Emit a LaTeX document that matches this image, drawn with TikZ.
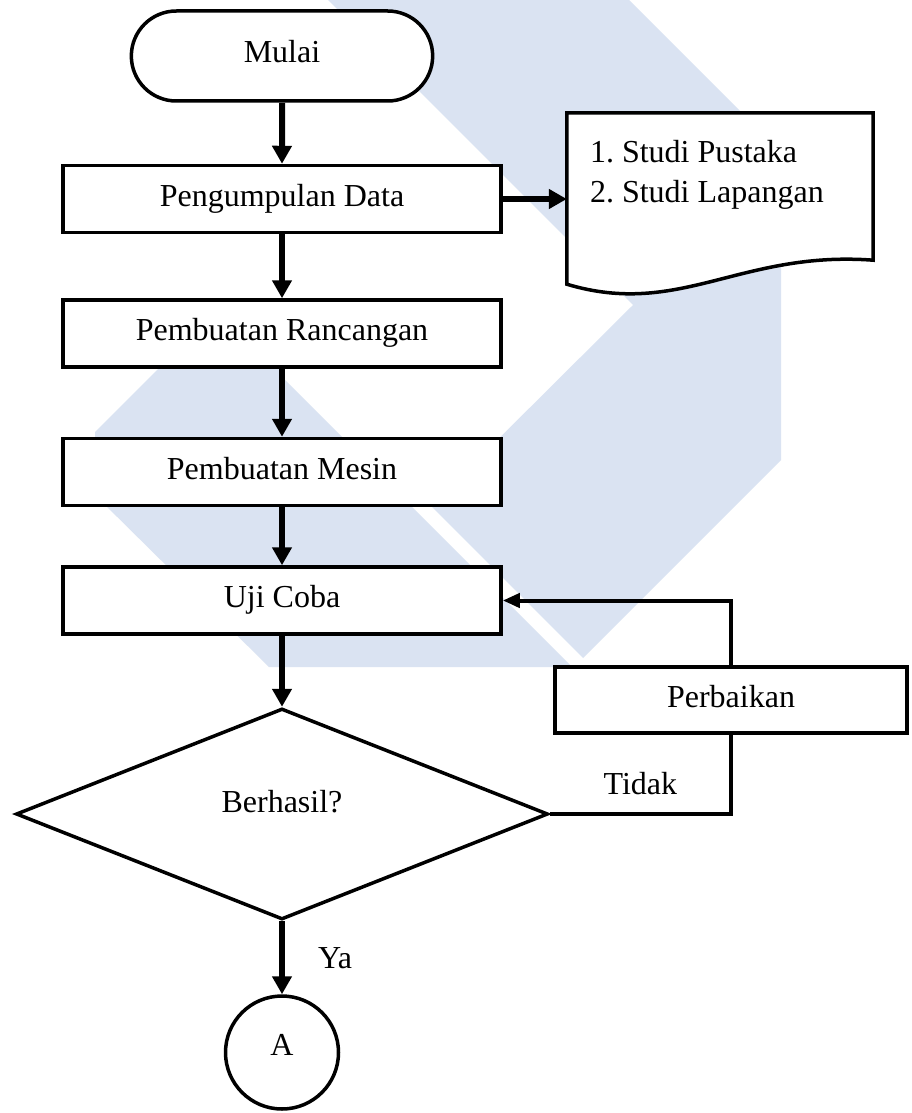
\documentclass[tikz,border=0pt]{standalone}
\usepackage{fontspec}
\setmainfont{Liberation Serif}
\usepackage{tikz}
\usetikzlibrary{positioning}
\usetikzlibrary{shapes,arrows,arrows.meta,calc}
\definecolor{wmblue}{RGB}{218,227,242}
\pgfdeclarelayer{wm}
\pgfdeclarelayer{background}
\pgfsetlayers{wm,background,main}
\frenchspacing
\tikzstyle{terminal} = [rounded rectangle, draw, fill=white, line width=3.5pt,
    minimum width=308pt, minimum height=90pt, text height=22pt, text depth=8pt]
\tikzstyle{block} = [rectangle, draw, fill=white, line width=3.5pt,
    minimum width=438pt, minimum height=67pt, text height=22pt, text depth=8pt]
\tikzstyle{decision} = [diamond, draw, fill=white, line width=3.5pt,
    minimum width=532pt, minimum height=211pt, inner sep=0pt, text depth=26pt]
\tikzstyle{connector} = [circle, draw, fill=white, line width=3.5pt,
    minimum size=113pt, text depth=16pt]
\tikzstyle{docbox} = [rectangle, minimum width=306pt, minimum height=123pt,
    text width=260pt, inner xsep=23pt, align=flush left]
\tikzstyle{line} = [draw, line width=6pt, -{Triangle[length=18pt,width=19pt]}]
\tikzstyle{backline} = [draw, line width=4pt]
\tikzstyle{backarrow} = [backline, -{Triangle[length=17pt,width=14pt]}]
\tikzstyle{note} = [inner sep=0pt]

\begin{document}
\begin{tikzpicture}[x=1pt, y=-1pt, font=\fontsize{32}{40}\selectfont]
    \useasboundingbox (0,0) rectangle (912,1113);
        % Watermark
    \begin{pgfonlayer}{wm}
        \fill [white] (0,0) rectangle (912,1113);
        \fill [wmblue] (328,0) -- (629,0) -- (781,152) -- (781,460) -- (583,658)
            -- (431,506) -- (633,305) -- cycle;
        \fill [wmblue] (95,432) -- (210,317) -- (275,317) -- (283,378) -- (572,667)
            -- (269,667) -- (95,495) -- cycle;
    \end{pgfonlayer}
        % Nodes
    \node [terminal] (mulai) at (282,56) {Mulai};
    \node [block, below=61pt of mulai] (data) {Pengumpulan Data};
    \node [docbox] (studi) at (720,174.5) {1. Studi Pustaka\\2. Studi Lapangan};
    \node [block, below=64pt of data] (rancang) {Pembuatan Rancangan};
    \node [block, below=68pt of rancang] (mesin) {Pembuatan Mesin};
    \node [block, below=58pt of mesin] (uji) {Uji Coba};
    \node [decision, below=71pt of uji] (hasil) {Berhasil?};
    \node [connector, below=73pt of hasil] (lanjut) {A};
    \node [block, minimum width=352pt, minimum height=66pt] (perbaikan) at (731,700) {Perbaikan};
        % Document outline
    \coordinate (dl) at ($(studi.south west)+(0,48)$);
    \coordinate (dr) at ($(studi.south east)+(0,24)$);
    \begin{pgfonlayer}{background}
        \draw [line width=3.5pt, fill=white] (dl) -- (studi.north west) -- (studi.north east)
            -- (dr) .. controls +(-133,-10) and +(113,34) .. (dl) -- cycle;
    \end{pgfonlayer}
        % Edges
    \path [line] (mulai) -- (data);
    \path [line] (data.east) -- (data.east -| studi.west);
    \path [line] (data) -- (rancang);
    \path [line] (rancang) -- (mesin);
    \path [line] (mesin) -- (uji);
    \path [line] (uji) -- (hasil);
    \path [line] (hasil) --node[note, right=33pt] {Ya} (lanjut);
    \path [backline] (hasil.east) --node[note, above=17pt] {Tidak} (hasil.east -| perbaikan.south)
        -- (perbaikan.south);
    \path [backarrow] (perbaikan.north) -- (perbaikan.north |- uji.east) -- (uji.east);
\end{tikzpicture}
\end{document}
